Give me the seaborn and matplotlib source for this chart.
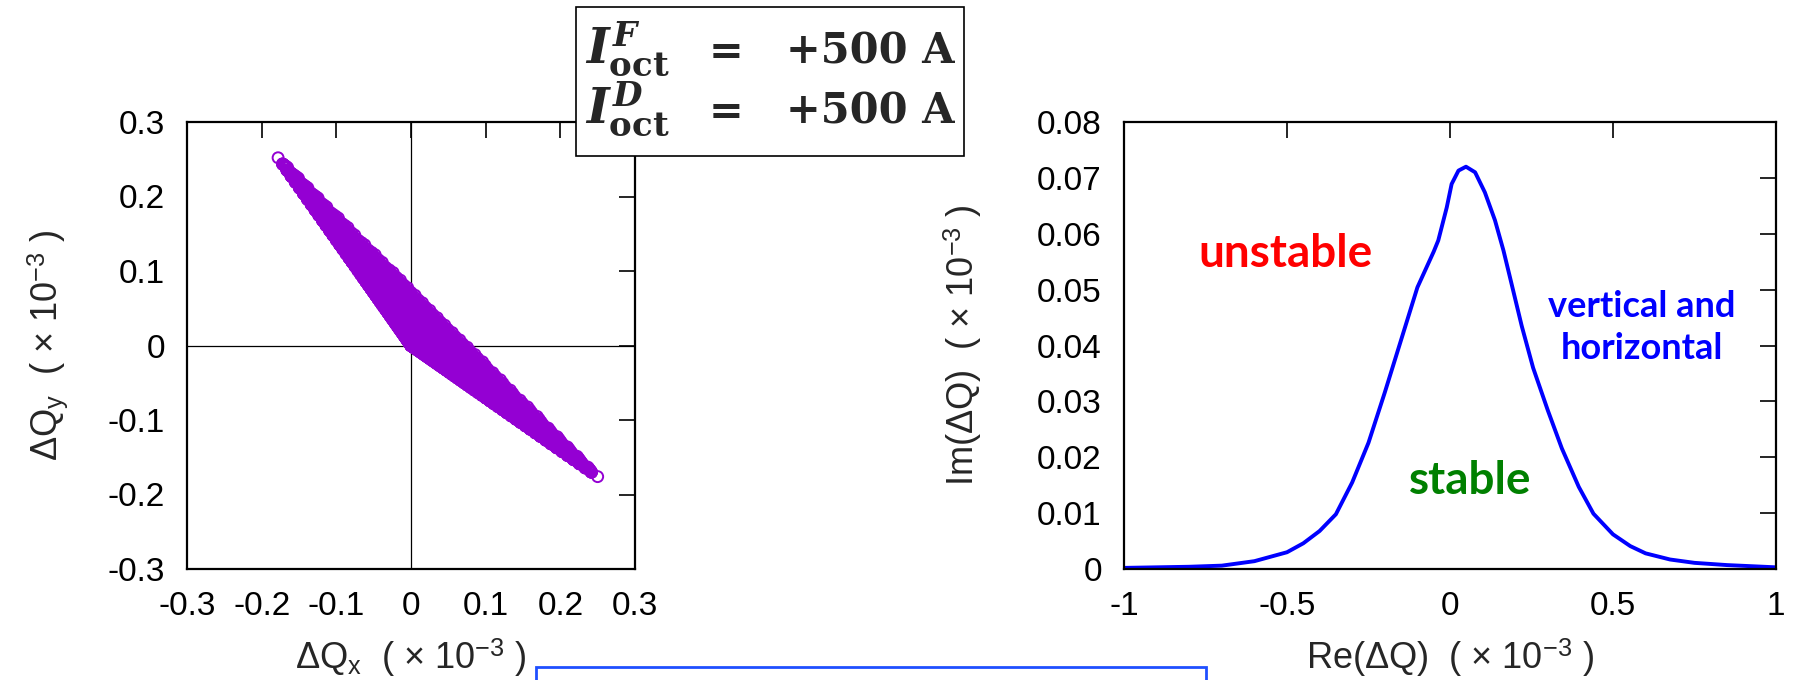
import numpy as np
import pandas as pd
import matplotlib
matplotlib.use("Agg")
import matplotlib.pyplot as plt
import seaborn as sns
from matplotlib.patches import Rectangle

# ---------------- data ----------------
# tune footprint: tune shift (x 1e-3) reached at the maximum amplitude in one plane only
corner_horizontal_only = [0.250, -0.176]   # (dQx, dQy) for Jx = Jmax, Jy = 0
corner_vertical_only = [-0.178, 0.252]     # (dQx, dQy) for Jx = 0, Jy = Jmax
sigma_max = 6.0
sigma_levels = [0.0, 0.1, 0.2, 0.3, 0.4, 0.5, 0.6, 0.7, 0.8, 0.9,
                1.0, 1.1, 1.2, 1.3, 1.4, 1.5, 1.6, 1.7, 1.8, 1.9,
                2.0, 2.1, 2.2, 2.3, 2.4, 2.5, 2.6, 2.7, 2.8, 2.9,
                3.0, 3.1, 3.2, 3.3, 3.4, 3.5, 3.6, 3.7, 3.8, 3.9,
                4.0, 4.1, 4.2, 4.3, 4.4, 4.5, 4.6, 4.7, 4.8, 4.9,
                5.0, 5.1, 5.2, 5.3, 5.4, 5.5, 5.6, 5.7, 5.8, 5.9, 6.0]

# stability diagram (x 1e-3)
re_dq = [-1.0, -0.9, -0.8, -0.7, -0.6, -0.5, -0.45, -0.4, -0.35, -0.3,
         -0.25, -0.2, -0.15, -0.1, -0.05, -0.036, -0.01, 0.005, 0.026, 0.049,
         0.077, 0.107, 0.138, 0.164, 0.184, 0.22, 0.255, 0.3, 0.343, 0.395,
         0.44, 0.5, 0.553, 0.6, 0.675, 0.75, 0.85, 1.0]
im_dq = [0.0002, 0.0003, 0.0004, 0.0006, 0.0014, 0.0030, 0.0046, 0.0068, 0.0098, 0.0155,
         0.0226, 0.0316, 0.0410, 0.0504, 0.0568, 0.0588, 0.0647, 0.0689, 0.0713, 0.0720,
         0.0710, 0.0674, 0.0624, 0.0570, 0.0522, 0.0435, 0.0360, 0.0284, 0.0216, 0.0147,
         0.0099, 0.0062, 0.0041, 0.0028, 0.0017, 0.0011, 0.0007, 0.0003]

left_ticks = [-0.3, -0.2, -0.1, 0.0, 0.1, 0.2, 0.3]
left_tick_labels = ["-0.3", "-0.2", "-0.1", "0", "0.1", "0.2", "0.3"]
right_xticks = [-1.0, -0.5, 0.0, 0.5, 1.0]
right_xtick_labels = ["-1", "-0.5", "0", "0.5", "1"]
right_yticks = [0.0, 0.01, 0.02, 0.03, 0.04, 0.05, 0.06, 0.07, 0.08]
right_ytick_labels = ["0", "0.01", "0.02", "0.03", "0.04", "0.05", "0.06", "0.07", "0.08"]

# ---------------- style ----------------
sns.set_style("white")
plt.rcParams["font.family"] = ["Liberation Sans", "DejaVu Sans"]
plt.rcParams["mathtext.fontset"] = "custom"
plt.rcParams["mathtext.rm"] = "Liberation Sans"
plt.rcParams["mathtext.it"] = "DejaVu Serif:italic:bold"
plt.rcParams["mathtext.bf"] = "DejaVu Serif:bold"

W, H = 1796, 680
fig = plt.figure(figsize=(W / 100, H / 100), dpi=100)
fig.patch.set_facecolor("white")

ax1 = fig.add_axes([187 / W, 1 - 569 / H, 448 / W, 447 / H])
ax2 = fig.add_axes([1124 / W, 1 - 569 / H, 652 / W, 447 / H])

# ---------------- footprint ----------------
sx, sy = np.meshgrid(np.array(sigma_levels), np.array(sigma_levels))
inside = sx ** 2 + sy ** 2 <= sigma_max ** 2 + 1e-9
jx = (sx[inside] / sigma_max) ** 2
jy = (sy[inside] / sigma_max) ** 2
foot = pd.DataFrame({
    "dqx": jx * corner_horizontal_only[0] + jy * corner_vertical_only[0],
    "dqy": jx * corner_horizontal_only[1] + jy * corner_vertical_only[1],
})

ax1.axhline(0, color="black", lw=0.9, zorder=1)
ax1.axvline(0, color="black", lw=0.9, zorder=1)
sns.scatterplot(data=foot, x="dqx", y="dqy", ax=ax1, marker="o", s=62,
                facecolor="none", edgecolor="#9400D3", linewidth=1.4,
                zorder=3, legend=False)
ax1.set_xlim(-0.3, 0.3)
ax1.set_ylim(-0.3, 0.3)
ax1.set_xticks(left_ticks)
ax1.set_xticklabels(left_tick_labels)
ax1.set_yticks(left_ticks)
ax1.set_yticklabels(left_tick_labels)

# ---------------- stability diagram ----------------
stab = pd.DataFrame({"re": re_dq, "im": im_dq})
sns.lineplot(data=stab, x="re", y="im", ax=ax2, color="#0000ff", linewidth=2.8,
             estimator=None, sort=False)
ax2.set_xlim(-1, 1)
ax2.set_ylim(0, 0.08)
ax2.set_xticks(right_xticks)
ax2.set_xticklabels(right_xtick_labels)
ax2.set_yticks(right_yticks)
ax2.set_yticklabels(right_ytick_labels)

ax2.text(-0.506, 0.0563, "unstable", color="#ff0000", fontsize=33,
         fontweight="bold", family="Lato", ha="center", va="center")
ax2.text(0.061, 0.0158, "stable", color="#008000", fontsize=33,
         fontweight="bold", family="Lato", ha="center", va="center")
ax2.text(0.588, 0.0432, "vertical and\nhorizontal", color="#0000ff", fontsize=26,
         fontweight="bold", family="Lato", ha="center", va="center",
         linespacing=1.35)

# ---------------- axes styling ----------------
for ax in (ax1, ax2):
    ax.grid(False)
    for sp in ax.spines.values():
        sp.set_visible(True)
        sp.set_linewidth(1.6)
        sp.set_color("black")
    ax.tick_params(direction="in", length=11.5, width=1.2, top=True, right=True,
                   labelsize=24, pad=16, color="black", labelcolor="black")

ax1.set_xlabel(r"ΔQ$_{\mathrm{x}}$  ( × 10$^{\mathrm{-3}}$ )", fontsize=26)
ax1.set_ylabel(r"ΔQ$_{\mathrm{y}}$  ( × 10$^{\mathrm{-3}}$ )", fontsize=26)
ax2.set_xlabel(r"Re(ΔQ)  ( × 10$^{\mathrm{-3}}$ )", fontsize=26)
ax2.set_ylabel(r"Im(ΔQ)  ( × 10$^{\mathrm{-3}}$ )", fontsize=26)
for ax, ylx in ((ax1, (48 - 187) / 448), (ax2, (963 - 1124) / 652)):
    ax.xaxis.set_label_coords(0.5, (569 - 658) / 447)
    ax.xaxis.label.set_va("center")
    ax.yaxis.set_label_coords(ylx, 0.5)
    ax.yaxis.label.set_va("center")
    ax.yaxis.label.set_ha("center")

# ---------------- octupole current box ----------------
fig.add_artist(Rectangle((576 / W, 1 - 156 / H), (964 - 576) / W, 149 / H,
                         transform=fig.transFigure, facecolor="white",
                         edgecolor="black", linewidth=1.2, zorder=10))
for base_y, plane in ((64, "F"), (124, "D")):
    yy = 1 - base_y / H
    fig.text(585 / W, yy, r"$I^{%s}_{\mathbf{oct}}$" % plane, fontsize=35,
             ha="left", va="baseline", zorder=11)
    fig.text(726 / W, yy, "=", family="DejaVu Serif", fontweight="bold",
             fontsize=30, ha="center", va="baseline", zorder=11)
    fig.text(786 / W, yy, "+500 A", family="DejaVu Serif", fontweight="bold",
             fontsize=30, ha="left", va="baseline", zorder=11)

# ---------------- blue frame at the bottom ----------------
fig.add_artist(Rectangle((536 / W, -0.05), (1206 - 536) / W, 0.05 + 1 - 667 / H,
                         transform=fig.transFigure, fill=False,
                         edgecolor="#1f4fff", linewidth=2.0, zorder=10,
                         clip_on=False))

fig.savefig("out.png", dpi=100, facecolor="white")
